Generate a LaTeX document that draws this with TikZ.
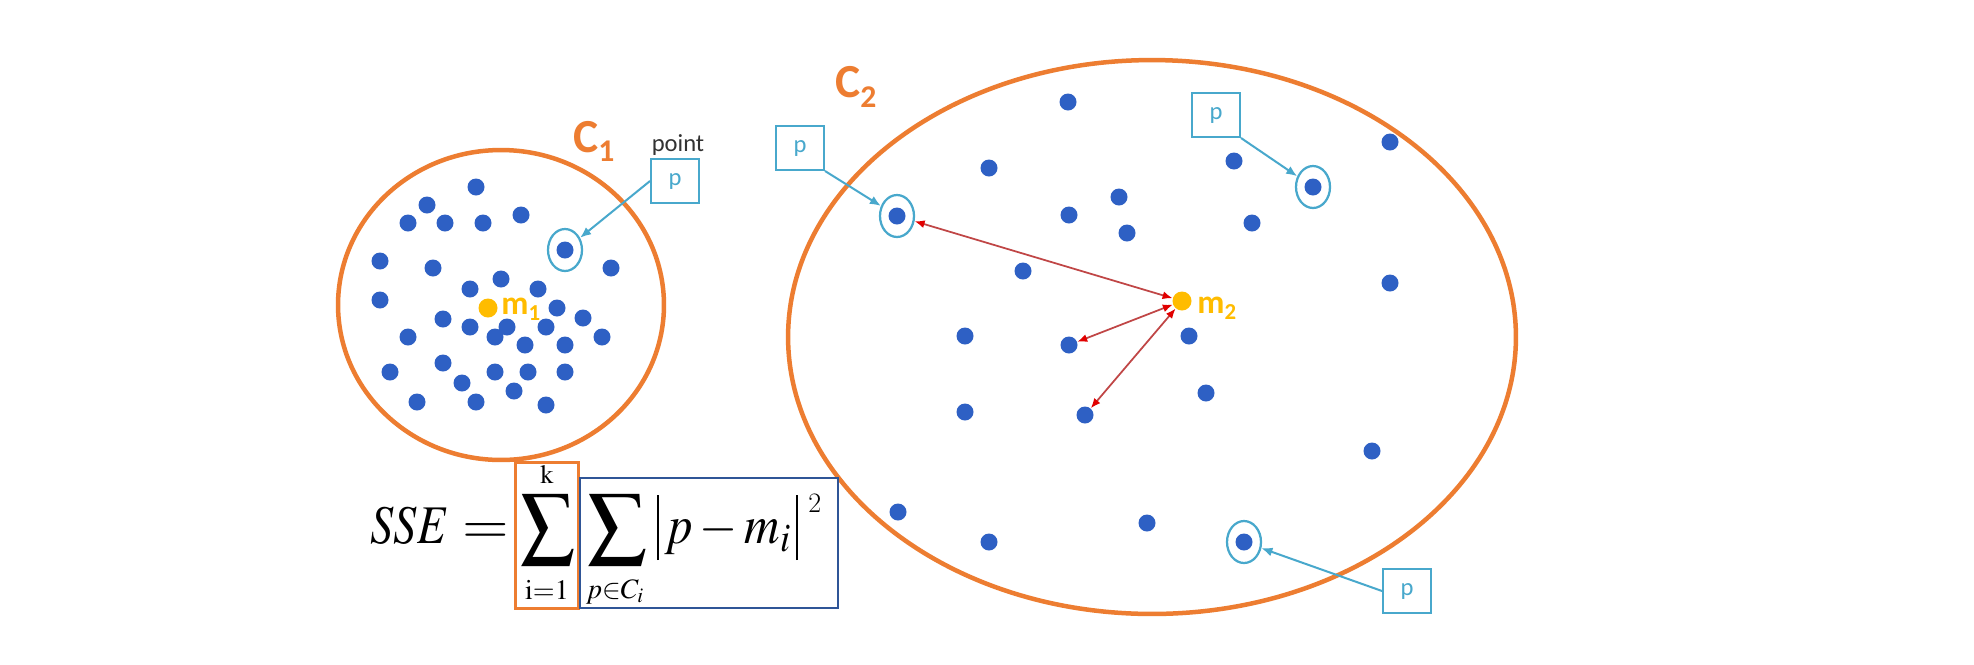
\documentclass[tikz,border=0pt]{standalone}
\usepackage{mathptmx}
\usepackage[no-math]{fontspec}
\usepackage{graphicx}
\newfontfamily\calib{Carlito}
\usetikzlibrary{arrows.meta,shapes.geometric}
\definecolor{corange}{RGB}{237,125,49}
\definecolor{dotblue}{RGB}{46,96,196}
\definecolor{pcyan}{RGB}{72,168,204}
\definecolor{mgold}{RGB}{255,188,0}
\definecolor{redline}{RGB}{192,70,70}
\definecolor{redhead}{RGB}{225,0,0}
\definecolor{navy}{RGB}{47,85,151}
\definecolor{greytext}{RGB}{50,50,50}
\newcommand{\absbar}{\rule[-0.34cm]{0.04cm}{1.3cm}}
\begin{document}
\begin{tikzpicture}[x=0.02cm,y=-0.02cm,
  dot/.style={circle,fill=dotblue,inner sep=0pt,minimum size=0.34cm},
  ring/.style={ellipse,draw=pcyan,line width=0.045cm,inner sep=0pt,minimum width=0.68cm,minimum height=0.84cm},
  pbox/.style={draw=pcyan,line width=0.04cm,inner sep=0pt,minimum width=0.96cm,minimum height=0.88cm,text=pcyan,font=\calib\fontsize{14pt}{14pt}\selectfont},
  cluster/.style={ellipse,draw=corange,line width=0.09cm,inner sep=0pt},
  centroid/.style={circle,fill=mgold,inner sep=0pt,minimum size=0.38cm},
  parrow/.style={draw=pcyan,line width=0.04cm,-{Latex[length=0.22cm,width=0.18cm]}},
  darrow/.style={draw=redline,line width=0.035cm,{Latex[length=0.2cm,width=0.16cm,color=redhead]}-{Latex[length=0.2cm,width=0.16cm,color=redhead]}},
  clabel/.style={text=corange,font=\calib\bfseries,inner sep=0pt,anchor=base west},
  mlabel/.style={text=mgold,font=\calib\bfseries,inner sep=0pt,anchor=base west},
  mathnode/.style={inner sep=0pt}
]
\path[use as bounding box,fill=white] (0,0) rectangle (1974,664);

% clusters
\node[cluster,minimum width=6.52cm,minimum height=6.2cm] (c1) at (501,305) {};
\node[cluster,minimum width=14.56cm,minimum height=11.08cm] (c2) at (1152,337) {};

% dots of cluster 1
\foreach \x/\y [count=\i] in {476/187,427/205,408/223,445/223,483/223,521/215,380/261,433/268,611/268,
  501/279,470/289,538/289,380/300,557/308,443/319,470/327,507/327,495/337,546/327,583/318,408/337,
  525/345,565/345,602/337,390/372,443/363,495/372,528/372,565/372,462/383,514/391,417/402,476/402,546/405}
  \node[dot] (a\i) at (\x,\y) {};
\node[dot] (pa) at (565,250) {};
\node[ring] (ra) at (565,250) {};

% dots of cluster 2
\foreach \x/\y [count=\i] in {1068/102,989/168,1119/197,1069/215,1127/233,1023/271,965/336,965/412,
  898/512,989/542,1147/523,1234/161,1390/142,1252/223,1390/283,1189/336,1206/393,1372/451}
  \node[dot] (b\i) at (\x,\y) {};
\node[dot] (da) at (1069,345) {};
\node[dot] (db) at (1085,415) {};
\node[dot] (pb) at (897,216) {};
\node[ring] (rb) at (897,216) {};
\node[dot] (pc) at (1313,187) {};
\node[ring] (rc) at (1313,187) {};
\node[dot] (pd) at (1244,542) {};
\node[ring] (rd) at (1244,542) {};

% centroids
\node[centroid] (m1) at (488,308) {};
\node[centroid] (m2) at (1182,301) {};
\node[mlabel] (m1lab) at (501,314) {\fontsize{19pt}{19pt}\selectfont m\raisebox{-0.12cm}{\fontsize{13pt}{13pt}\selectfont 1}};
\node[mlabel] (m2lab) at (1197,313) {\fontsize{19pt}{19pt}\selectfont m\raisebox{-0.12cm}{\fontsize{13pt}{13pt}\selectfont 2}};

% cluster labels
\node[clabel] (c1lab) at (573,152) {\fontsize{27pt}{27pt}\selectfont C\raisebox{-0.18cm}{\fontsize{18pt}{18pt}\selectfont 1}};
\node[clabel] (c2lab) at (835,97) {\fontsize{27pt}{27pt}\selectfont C\raisebox{-0.2cm}{\fontsize{18pt}{18pt}\selectfont 2}};

% point boxes
\node[font=\calib\fontsize{14pt}{14pt}\selectfont,text=greytext,inner sep=0pt] (pointlab) at (678,145) {point};
\node[pbox] (p1) at (675,181) {p};
\node[pbox] (p2) at (800,148) {p};
\node[pbox] (p3) at (1216,115) {p};
\node[pbox] (p4) at (1407,591) {p};
\draw[parrow] (p1.west) -- (ra);
\draw[parrow] (p2.south east) -- (rb);
\draw[parrow] (p3.south east) -- (rc);
\draw[parrow] (p4.west) -- (rd);

% distances to centroid
\draw[darrow] (rb) -- (m2);
\draw[darrow] (da) -- (m2);
\draw[darrow] (db) -- (m2);

% formula
\node[mathnode,anchor=base west] (sse) at (370,543) {\fontsize{31pt}{31pt}\selectfont\scalebox{0.85}[1]{$SSE$}};
\node[mathnode,anchor=base west] (eq) at (462,543) {\fontsize{31pt}{31pt}\selectfont\scalebox{1.1}[1]{$=$}};
\node[mathnode] (sum1) at (547.5,530) {\resizebox*{1.1cm}{1.42cm}{$\displaystyle\sum$}};
\node[mathnode] (sum2) at (617,530) {\resizebox*{1.2cm}{1.42cm}{$\displaystyle\sum$}};
\node[mathnode] (lk) at (547,474) {\fontsize{15pt}{15pt}\selectfont $\mathrm{k}$};
\node[mathnode] (li) at (547,590) {\fontsize{16pt}{16pt}\selectfont $\mathrm{i{=}1}$};
\node[mathnode] (lp) at (615,592) {\fontsize{16pt}{16pt}\selectfont $p{\in}C_i$};
\node[mathnode,anchor=base west] (abs) at (657,543) {\fontsize{31pt}{31pt}\selectfont\absbar\scalebox{0.9}[1]{$\,p-m_i\,$}\absbar\hspace{0.2cm}\raisebox{0.62cm}{\fontsize{16pt}{16pt}\selectfont 2}};
\node[draw=corange,line width=0.06cm,inner sep=0pt,minimum width=1.26cm,minimum height=2.92cm] (obox) at (546.5,535) {};
\node[draw=navy,line width=0.05cm,inner sep=0pt,minimum width=5.16cm,minimum height=2.6cm] (nbox) at (709,543) {};
\end{tikzpicture}
\end{document}
